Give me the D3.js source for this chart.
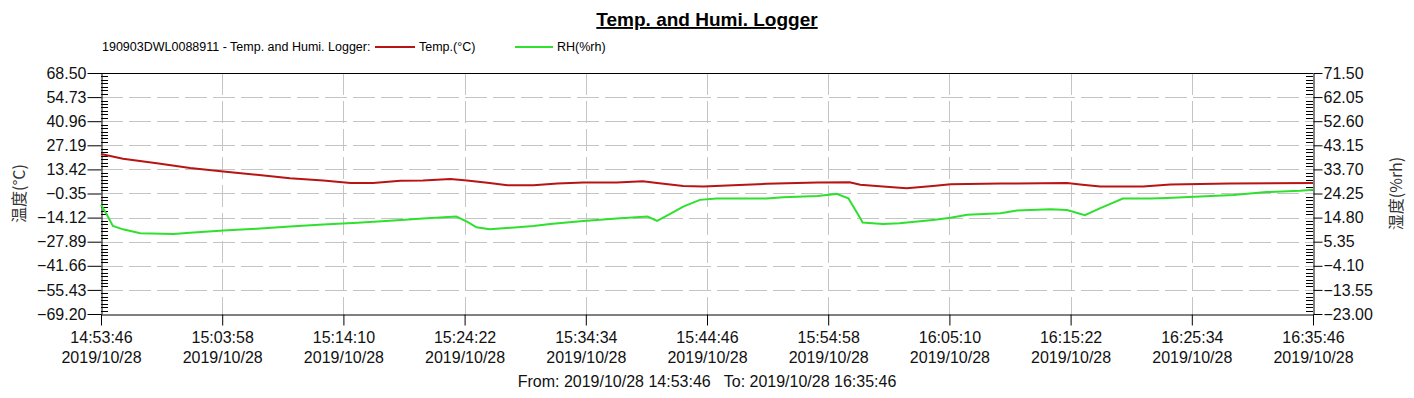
<!DOCTYPE html>
<html>
<head>
<meta charset="utf-8">
<script src="https://cdn.jsdelivr.net/npm/d3@7"></script>
<style>
  body { margin: 0; background: #fff; }
  text { font-family: Arial, "Liberation Sans", sans-serif; }
</style>
</head>
<body>
<div id="chart"></div>
<script>
// data, time in minutes after 14:53:46
const tempMinutes = [0, 1.85, 4.7, 7.5, 10.3, 13.1, 15.9, 18.7, 21.0, 22.9, 25.2, 27.1, 29.4, 30.8, 32.7, 34.2, 36.4, 38.4, 40.6, 43.4, 45.6, 46.8, 49.0, 50.7, 53.2, 56.0, 60.3, 63.0, 63.9, 65.8, 67.8, 70.0, 71.5, 75.7, 81.3, 82.6, 84.1, 87.7, 90.0, 95.0, 102.0];
const tempValues = [22.2, 19.5, 17.0, 14.2, 12.2, 10.3, 8.4, 7.1, 5.6, 5.6, 6.9, 7.1, 7.9, 7.1, 5.6, 4.4, 4.4, 5.3, 5.9, 5.9, 6.7, 5.6, 3.9, 3.6, 4.4, 5.2, 5.9, 6.1, 4.6, 3.6, 2.7, 4.0, 5.0, 5.3, 5.6, 4.6, 3.6, 3.6, 4.8, 5.3, 5.6];

const rhMinutes = [0, 0.5, 1.0, 1.85, 3.3, 6.1, 7.5, 10.3, 13.1, 15.9, 18.7, 21.6, 24.3, 27.1, 29.9, 30.8, 31.6, 32.7, 36.4, 37.8, 40.6, 43.4, 46.0, 46.8, 47.9, 49.0, 50.4, 51.8, 56.0, 57.4, 60.3, 61.9, 62.9, 63.9, 64.1, 65.8, 67.2, 70.0, 71.5, 72.9, 75.7, 77.1, 79.9, 81.3, 82.8, 84.1, 86.0, 88.3, 89.7, 92.5, 95.3, 98.1, 100.9, 102.0];
const rhValues = [19.8, 15.9, 11.55, 10.2, 8.7, 8.4, 8.9, 9.7, 10.4, 11.3, 12.1, 12.8, 13.6, 14.4, 15.2, 13.2, 11.0, 10.2, 11.55, 12.3, 13.5, 14.4, 15.2, 13.5, 16.25, 19.1, 21.75, 22.3, 22.3, 22.8, 23.3, 24.1, 22.4, 14.5, 12.9, 12.3, 12.6, 13.9, 14.7, 15.9, 16.5, 17.6, 18.1, 17.8, 15.75, 18.5, 22.3, 22.3, 22.5, 23.05, 23.7, 24.8, 25.3, 25.7];

const leftTicks = [68.50, 54.73, 40.96, 27.19, 13.42, -0.35, -14.12, -27.89, -41.66, -55.43, -69.20];
const rightTicks = [71.50, 62.05, 52.60, 43.15, 33.70, 24.25, 14.80, 5.35, -4.10, -13.55, -23.00];
const startTime = new Date(2019, 9, 28, 14, 53, 46);
const endTime = new Date(2019, 9, 28, 16, 35, 46);
const tickStepSeconds = 612;

const W = 1414, H = 398;
const margin = { top: 73, right: 101, bottom: 84, left: 101 };
const width = W - margin.left - margin.right;
const height = H - margin.top - margin.bottom;

const svg = d3.select("#chart").append("svg")
    .attr("width", W).attr("height", H);

const x = d3.scaleTime().domain([startTime, endTime]).range([0, width]);
const yL = d3.scaleLinear().domain([-69.20, 68.50]).range([height, 0]);
const yR = d3.scaleLinear().domain([-23.00, 71.50]).range([height, 0]);
const toDate = m => new Date(startTime.getTime() + m * 60000);

const xTicks = d3.range(0, 11).map(i => new Date(startTime.getTime() + i * tickStepSeconds * 1000));
const fmtTime = d3.timeFormat("%H:%M:%S");
const fmtDate = d3.timeFormat("%Y/%m/%d");
const fmtFull = d3.timeFormat("%Y/%m/%d %H:%M:%S");

// Title
svg.append("text")
    .attr("x", 707).attr("y", 26)
    .attr("text-anchor", "middle")
    .style("font-size", "19px").style("font-weight", "bold")
    .style("text-decoration", "underline")
    .text("Temp. and Humi. Logger");

// Legend
svg.append("text").attr("x", 102).attr("y", 51).style("font-size", "12.5px")
    .text("190903DWL0088911 - Temp. and Humi. Logger:");
svg.append("line").attr("x1", 375).attr("x2", 415).attr("y1", 47).attr("y2", 47)
    .attr("stroke", "#b81414").attr("stroke-width", 2);
svg.append("text").attr("x", 419).attr("y", 51).style("font-size", "12.5px").text("Temp.(°C)");
svg.append("line").attr("x1", 515).attr("x2", 553).attr("y1", 47).attr("y2", 47)
    .attr("stroke", "#2fe02f").attr("stroke-width", 2);
svg.append("text").attr("x", 557).attr("y", 51).style("font-size", "12.5px").text("RH(%rh)");

const g = svg.append("g").attr("transform", `translate(${margin.left},${margin.top})`);

// Grid
g.append("g").selectAll("line").data(leftTicks.slice(1, -1)).enter().append("line")
    .attr("x1", 0).attr("x2", width)
    .attr("y1", d => Math.round(yL(d)) + 0.5).attr("y2", d => Math.round(yL(d)) + 0.5)
    .attr("stroke", "#c4c4c4").attr("stroke-dasharray", "22,6");
g.append("g").selectAll("line").data(xTicks.slice(1, -1)).enter().append("line")
    .attr("y1", 0).attr("y2", height)
    .attr("x1", d => Math.round(x(d)) + 0.5).attr("x2", d => Math.round(x(d)) + 0.5)
    .attr("stroke", "#c4c4c4").attr("stroke-dasharray", "22,6");

// Top border
g.append("line").attr("x1", 0).attr("x2", width).attr("y1", 0.5).attr("y2", 0.5).attr("stroke", "#000");

// Minor ticks (7 subdivisions per major interval)
const minorL = [];
const minorR = [];
for (let i = 0; i < leftTicks.length - 1; i++) {
    for (let k = 1; k < 7; k++) {
        minorL.push(leftTicks[i] + (leftTicks[i + 1] - leftTicks[i]) * k / 7);
        minorR.push(rightTicks[i] + (rightTicks[i + 1] - rightTicks[i]) * k / 7);
    }
}
g.append("g").selectAll("line").data(minorL).enter().append("line")
    .attr("x1", 0).attr("x2", 7)
    .attr("y1", d => Math.round(yL(d)) + 0.5).attr("y2", d => Math.round(yL(d)) + 0.5)
    .attr("stroke", "#000");
g.append("g").selectAll("line").data(minorR).enter().append("line")
    .attr("x1", width - 7).attr("x2", width)
    .attr("y1", d => Math.round(yR(d)) + 0.5).attr("y2", d => Math.round(yR(d)) + 0.5)
    .attr("stroke", "#000");

// Left axis
const axL = g.append("g").attr("transform", "translate(0.5,0)")
    .call(d3.axisLeft(yL).tickValues(leftTicks).tickFormat(d3.format(".2f")).tickSize(14).tickPadding(1).tickSizeOuter(0));
axL.selectAll("text").style("font-size", "16px").attr("fill", "#111");

// Right axis
const axR = g.append("g").attr("transform", `translate(${width + 0.5},0)`)
    .call(d3.axisRight(yR).tickValues(rightTicks).tickFormat(d3.format(".2f")).tickSize(9).tickPadding(1).tickSizeOuter(0));
axR.selectAll("text").style("font-size", "16px").attr("fill", "#111");

// Bottom axis
const axB = g.append("g").attr("transform", `translate(0,${height + 0.5})`)
    .call(d3.axisBottom(x).tickValues(xTicks).tickFormat(fmtTime).tickSize(11).tickPadding(6).tickSizeOuter(0));
axB.selectAll("text").style("font-size", "16px").attr("fill", "#111");
axB.selectAll(".tick").append("text")
    .attr("y", 48).attr("fill", "#111")
    .attr("text-anchor", "middle")
    .style("font-size", "16px")
    .text(d => fmtDate(d));
svg.selectAll(".domain").attr("stroke", "#000");
svg.selectAll(".tick line").attr("stroke", "#000");

// Lines
const tempLine = d3.line().x((d, i) => x(toDate(tempMinutes[i]))).y(d => yL(d));
const rhLine = d3.line().x((d, i) => x(toDate(rhMinutes[i]))).y(d => yR(d));
g.append("path").datum(rhValues).attr("d", rhLine)
    .attr("fill", "none").attr("stroke", "#2fe02f").attr("stroke-width", 2);
g.append("path").datum(tempValues).attr("d", tempLine)
    .attr("fill", "none").attr("stroke", "#b81414").attr("stroke-width", 2);

// Axis titles
svg.append("text")
    .attr("transform", `translate(25,${margin.top + height / 2}) rotate(-90)`)
    .attr("text-anchor", "middle")
    .style("font-family", "'Noto Sans CJK SC', sans-serif")
    .style("font-size", "16px").attr("fill", "#333")
    .text("温度(°C)");
svg.append("text")
    .attr("transform", `translate(1402,${margin.top + height / 2}) rotate(-90)`)
    .attr("text-anchor", "middle")
    .style("font-family", "'Noto Sans CJK SC', sans-serif")
    .style("font-size", "16px").attr("fill", "#333")
    .text("湿度(%rh)");

// From / To
svg.append("text")
    .attr("x", 707).attr("y", 387)
    .attr("text-anchor", "middle")
    .style("font-size", "16px").attr("fill", "#111")
    .style("white-space", "pre")
    .text("From: " + fmtFull(startTime) + "   To: " + fmtFull(endTime));
</script>
</body>
</html>
